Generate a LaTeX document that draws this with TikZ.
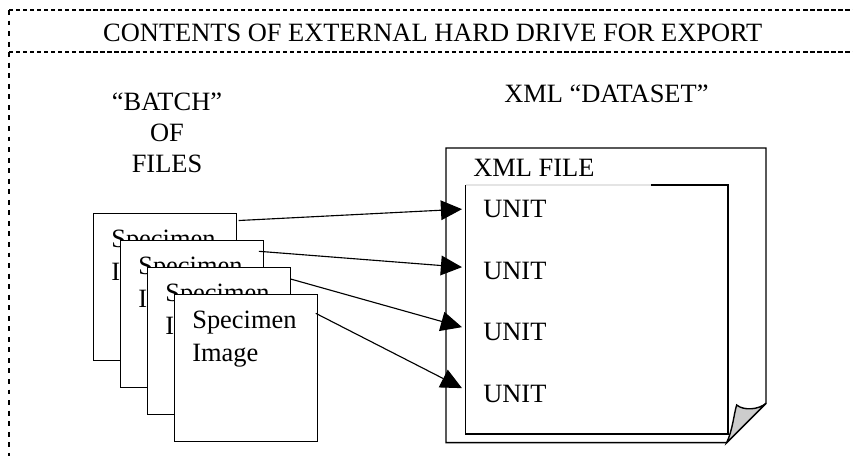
\documentclass[tikz,border=0pt]{standalone}
\usepackage{fontspec}
\setmainfont{Liberation Serif}
\usepackage{tikz}
\definecolor{foldgray}{RGB}{204, 204, 204}
\definecolor{faintline}{RGB}{228, 228, 228}
\usetikzlibrary{arrows.meta, positioning}

\begin{document}
\begin{tikzpicture}[
    font=\fontsize{18.8}{23.5}\selectfont,
    border/.style={line width=0.8pt, dash pattern=on 3pt off 2pt},
    pageline/.style={draw=black, line width=1pt},
    specbox/.style={draw=black, line width=1pt, fill=white, anchor=north west,
                 minimum width=3.575cm, minimum height=3.675cm, inner sep=0pt, outer sep=0pt},
    spectext/.style={anchor=north west, align=left, inner sep=0pt},
    unitlabel/.style={anchor=base west, inner sep=0pt},
    linkarrow/.style={-{Triangle[length=15pt, width=14pt]}, line width=0.8pt}
]
    \useasboundingbox (0,0) rectangle (21.325,11.4);

    % Drive frame
    \draw[border, line width=1.1pt] (0.225,11.15) -- (21.325,11.15);
    \draw[border] (0.225,10.1) -- (21.325,10.1);
    \draw[line width=0.8pt, dash pattern=on 3.5pt off 4pt] (0.225,11.15) -- (0.225,0);
    \node (title) at (10.82,10.575) {CONTENTS OF EXTERNAL HARD DRIVE FOR EXPORT};

    % Labels
    \node[align=center, inner sep=0pt, font=\fontsize{18.8}{22}\selectfont] (batch) at (4.175,8.075) {``BATCH''\\OF\\FILES};
    \node[inner sep=0pt] (dataset) at (15.16,9.05) {XML ``DATASET''};

    % XML page with curled corner
    \draw[pageline, fill=white] (18.167,0.333) -- (11.15,0.333) -- (11.15,7.7) -- (19.15,7.7) -- (19.15,1.317) -- cycle;

    \node[minimum width=6.56cm, minimum height=6.225cm, inner sep=0pt, outer sep=0pt] (xmlfile) at (14.92,3.6625) {};
    \draw[pageline] ([xshift=4.635cm]xmlfile.north west) -- (xmlfile.north east) -- (xmlfile.south east)
        -- (xmlfile.south west) -- (xmlfile.north west);
    \draw[faintline, line width=1pt] (xmlfile.north west) -- ([xshift=4.635cm]xmlfile.north west);
    \node[anchor=west, inner sep=0pt] (filelabel) at (11.825,7.2) {XML FILE};

    \draw[pageline, fill=foldgray] (18.417,1.275) .. controls (18.583,1.133) and (18.958,1.15) .. (19.15,1.317)
        -- (18.167,0.333) .. controls (18.317,0.65) and (18.35,1.067) .. (18.417,1.275) -- cycle;

    \node[unitlabel] (unit1) at (12.075,5.958) {UNIT};
    \node[unitlabel] (unit2) at (12.075,4.408) {UNIT};
    \node[unitlabel] (unit3) at (12.075,2.883) {UNIT};
    \node[unitlabel] (unit4) at (12.075,1.333) {UNIT};

    % Batch of image files
    \node[specbox] (spec1) at (2.333,6.067) {};
    \node[spectext] (text1) at ([xshift=0.443cm, yshift=-0.4cm]spec1.north west) {Specimen\\Image};
    \node[specbox] (spec2) at (3.008,5.392) {};
    \node[spectext] (text2) at ([xshift=0.443cm, yshift=-0.4cm]spec2.north west) {Specimen\\Image};
    \node[specbox] (spec3) at (3.683,4.717) {};
    \node[spectext] (text3) at ([xshift=0.443cm, yshift=-0.4cm]spec3.north west) {Specimen\\Image};
    \node[specbox] (spec4) at (4.358,4.042) {};
    \node[spectext] (text4) at ([xshift=0.443cm, yshift=-0.4cm]spec4.north west) {Specimen\\Image};

    % Arrows
    \draw[linkarrow] ([xshift=0.06cm, yshift=-0.18cm]spec1.north east) -- ([xshift=-0.525cm]unit1.west);
    \draw[linkarrow] ([xshift=-0.11cm, yshift=-0.275cm]spec2.north east) -- ([xshift=-0.525cm, yshift=0.1cm]unit2.west);
    \draw[linkarrow] ([yshift=-0.29cm]spec3.north east) -- ([xshift=-0.525cm, yshift=0.125cm]unit3.west);
    \draw[linkarrow] ([xshift=-0.04cm, yshift=-0.475cm]spec4.north east) -- ([xshift=-0.525cm, yshift=0.15cm]unit4.west);
\end{tikzpicture}
\end{document}
